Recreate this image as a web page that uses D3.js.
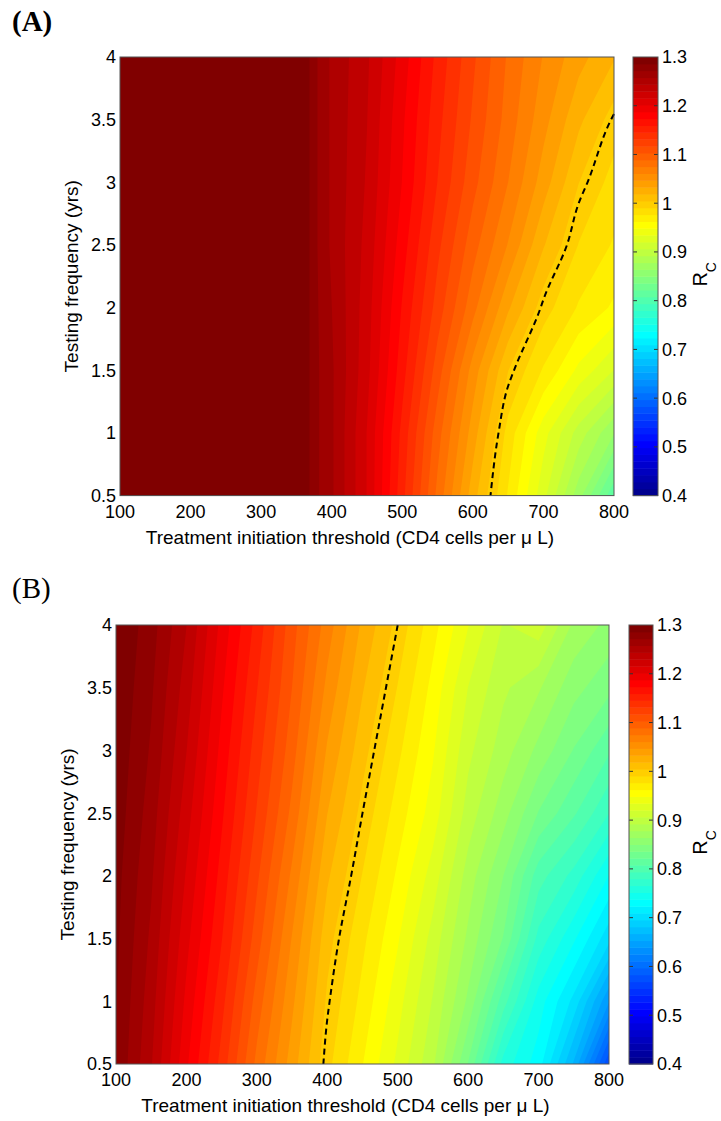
<!DOCTYPE html>
<html>
<head>
<meta charset="utf-8">
<script src="https://cdnjs.cloudflare.com/ajax/libs/d3/7.8.5/d3.min.js"></script>
<style>
  body { margin: 0; background: #fff; }
  text { fill: #000; }
</style>
</head>
<body>
<div id="chart"></div>
<script>
// grid rows: testing frequency (yrs)
const freqYears = [0.5, 1, 1.5, 2, 2.5, 3, 3.5, 4];

// panel A: threshold columns (CD4 cells per uL) and R_C, one row per frequency
const thresholdA = [100, 200, 300, 360, 370, 400, 450, 500, 550, 600, 650, 700, 750, 800];
const rcA = [
  [1.32, 1.32, 1.32, 1.32, 1.28, 1.26, 1.215, 1.15, 1.085, 1.025, 0.975, 0.925, 0.87, 0.81],
  [1.32, 1.32, 1.32, 1.32, 1.28, 1.26, 1.215, 1.155, 1.095, 1.04, 0.985, 0.94, 0.90, 0.865],
  [1.32, 1.32, 1.32, 1.32, 1.28, 1.26, 1.22, 1.165, 1.11, 1.055, 1.005, 0.975, 0.945, 0.92],
  [1.32, 1.32, 1.32, 1.32, 1.28, 1.258, 1.222, 1.172, 1.125, 1.08, 1.035, 0.997, 0.975, 0.96],
  [1.32, 1.32, 1.32, 1.32, 1.28, 1.255, 1.225, 1.18, 1.135, 1.095, 1.06, 1.02, 0.99, 0.975],
  [1.32, 1.32, 1.32, 1.32, 1.28, 1.255, 1.228, 1.187, 1.145, 1.108, 1.075, 1.04, 1.005, 0.985],
  [1.32, 1.32, 1.32, 1.32, 1.28, 1.255, 1.23, 1.19, 1.15, 1.115, 1.083, 1.052, 1.022, 0.998],
  [1.32, 1.32, 1.32, 1.32, 1.28, 1.255, 1.232, 1.195, 1.155, 1.12, 1.087, 1.06, 1.038, 1.02]
];

// panel B
const thresholdB = [100, 150, 200, 250, 300, 350, 400, 450, 500, 550, 600, 650, 700, 750, 800];
const rcB = [
  [1.285, 1.245, 1.19, 1.14, 1.085, 1.04, 0.995, 0.963, 0.931, 0.895, 0.835, 0.76, 0.73, 0.665, 0.57],
  [1.287, 1.25, 1.198, 1.15, 1.097, 1.05, 1.002, 0.972, 0.94, 0.905, 0.861, 0.80, 0.745, 0.705, 0.64],
  [1.289, 1.255, 1.206, 1.16, 1.11, 1.06, 1.01, 0.98, 0.95, 0.915, 0.875, 0.835, 0.775, 0.74, 0.70],
  [1.291, 1.26, 1.214, 1.168, 1.12, 1.072, 1.021, 0.99, 0.96, 0.928, 0.886, 0.85, 0.80, 0.775, 0.737],
  [1.294, 1.265, 1.222, 1.176, 1.13, 1.085, 1.033, 1.0, 0.97, 0.942, 0.9, 0.87, 0.835, 0.81, 0.78],
  [1.296, 1.27, 1.23, 1.183, 1.138, 1.095, 1.045, 1.01, 0.98, 0.95, 0.91, 0.885, 0.86, 0.835, 0.81],
  [1.298, 1.274, 1.237, 1.19, 1.146, 1.103, 1.057, 1.02, 0.99, 0.958, 0.92, 0.895, 0.88, 0.855, 0.84],
  [1.30, 1.278, 1.244, 1.197, 1.154, 1.109, 1.068, 1.03, 1.0, 0.968, 0.935, 0.905, 0.915, 0.875, 0.86]
];

const xTicks = [100, 200, 300, 400, 500, 600, 700, 800];
const yTicks = [0.5, 1, 1.5, 2, 2.5, 3, 3.5, 4];
const cbTicks = [0.4, 0.5, 0.6, 0.7, 0.8, 0.9, 1, 1.1, 1.2, 1.3];
const cRange = [0.4, 1.3];
const criticalLevel = 1;

const sans = "'Liberation Sans', Arial, Helvetica, sans-serif";
const serif = "'Liberation Serif', 'DejaVu Serif', serif";

const width = 721, height = 1121;
const svg = d3.select("#chart").append("svg")
  .attr("width", width)
  .attr("height", height)
  .style("font-family", sans);

// matlab style jet(m)
function jet(m) {
  const n = Math.ceil(m / 4);
  const u = d3.range(1, n + 1).map(i => i / n)
    .concat(d3.range(n - 1).map(() => 1))
    .concat(d3.range(n, 0, -1).map(i => i / n));
  const g0 = Math.ceil(n / 2) - (m % 4 === 1 ? 1 : 0);
  const J = d3.range(m).map(() => [0, 0, 0]);
  u.forEach((val, k) => {
    const g = g0 + k + 1;
    const r = g + n, b = g - n;
    if (r >= 1 && r <= m) J[r - 1][0] = val;
    if (g >= 1 && g <= m) J[g - 1][1] = val;
    if (b >= 1 && b <= m) J[b - 1][2] = val;
  });
  return J.map(c => d3.rgb(c[0] * 255, c[1] * 255, c[2] * 255).formatHex());
}

const nColors = 64;
const colors = jet(nColors);
const step = (cRange[1] - cRange[0]) / nColors;
const levels = d3.range(nColors).map(k => cRange[0] + k * step);

const panels = [
  { label: "(A)", weight: "bold", xs: thresholdA, grid: rcA,
    left: 120, right: 614, top: 57, bottom: 495.6, cbLeft: 633, cbRight: 658, labelY: 31 },
  { label: "(B)", weight: "normal", xs: thresholdB, grid: rcB,
    left: 116, right: 609, top: 625, bottom: 1064, cbLeft: 629, cbRight: 653, labelY: 598 }
];

// pull the open part of a contour ring away from the grid border
function interiorRuns(ring, nx, ny) {
  const inside = pt => pt[0] > 0 && pt[0] < nx && pt[1] > 0 && pt[1] < ny;
  const pts = ring.slice(0, -1);
  const start = pts.findIndex(pt => !inside(pt));
  if (start < 0) return [ring];
  const rot = pts.slice(start).concat(pts.slice(0, start));
  const runs = [];
  let cur = [];
  rot.forEach(pt => {
    if (inside(pt)) cur.push(pt);
    else if (cur.length) { runs.push(cur); cur = []; }
  });
  if (cur.length) runs.push(cur);
  return runs;
}

function drawPanel(p) {
  const g = svg.append("g");
  const x = d3.scaleLinear().domain([100, 800]).range([p.left, p.right]);
  const y = d3.scaleLinear().domain([0.5, 4]).range([p.bottom, p.top]);

  const nx = p.xs.length, ny = freqYears.length;
  const ix = d3.scaleLinear().domain(d3.range(nx)).range(p.xs);
  const iy = d3.scaleLinear().domain(d3.range(ny)).range(freqYears);
  const px = u => x(ix(Math.max(0, Math.min(nx - 1, u - 0.5))));
  const py = v => y(iy(Math.max(0, Math.min(ny - 1, v - 0.5))));
  const path = d3.geoPath(d3.geoTransform({
    point(a, b) { this.stream.point(px(a), py(b)); }
  }));

  const values = p.grid.flat();
  const bands = d3.contours().size([nx, ny]).thresholds(levels)(values);

  g.selectAll("path.band")
    .data(bands)
    .join("path")
    .attr("class", "band")
    .attr("d", path)
    .attr("fill", (d, i) => colors[Math.min(i, nColors - 1)]);

  // R_C = 1 dashed line
  const crit = d3.contours().size([nx, ny]).thresholds([criticalLevel])(values)[0];
  const runs = [];
  crit.coordinates.forEach(poly => poly.forEach(ring => {
    interiorRuns(ring, nx, ny).forEach(r => runs.push(r));
  }));
  const line = d3.line().x(d => px(d[0])).y(d => py(d[1])).curve(d3.curveMonotoneY);
  g.selectAll("path.crit")
    .data(runs)
    .join("path")
    .attr("class", "crit")
    .attr("d", line)
    .attr("fill", "none")
    .attr("stroke", "#000")
    .attr("stroke-width", 2)
    .attr("stroke-dasharray", "6,4");

  // axes box
  g.append("rect")
    .attr("x", p.left).attr("y", p.top)
    .attr("width", p.right - p.left).attr("height", p.bottom - p.top)
    .attr("fill", "none").attr("stroke", "#555").attr("stroke-width", 1);

  g.selectAll("text.xt")
    .data(xTicks)
    .join("text")
    .attr("class", "xt")
    .attr("x", d => x(d))
    .attr("y", p.bottom + 22)
    .attr("text-anchor", "middle")
    .attr("font-size", 18)
    .text(d => d);

  g.selectAll("text.yt")
    .data(yTicks)
    .join("text")
    .attr("class", "yt")
    .attr("x", p.left - 4)
    .attr("y", d => y(d))
    .attr("dy", "0.36em")
    .attr("text-anchor", "end")
    .attr("font-size", 18)
    .text(d => d);

  g.append("text")
    .attr("x", (p.left + p.right) / 2 - 17)
    .attr("y", p.bottom + 48)
    .attr("text-anchor", "middle")
    .attr("font-size", 19)
    .text("Treatment initiation threshold (CD4 cells per \u03bc L)");

  g.append("text")
    .attr("transform", `translate(${p.left - 42},${(p.top + p.bottom) / 2}) rotate(-90)`)
    .attr("text-anchor", "middle")
    .attr("font-size", 19)
    .text("Testing frequency (yrs)");

  // colorbar
  const c = d3.scaleLinear().domain(cRange).range([p.bottom, p.top]);
  g.selectAll("rect.cb")
    .data(levels)
    .join("rect")
    .attr("class", "cb")
    .attr("x", p.cbLeft)
    .attr("y", d => c(d + step))
    .attr("width", p.cbRight - p.cbLeft)
    .attr("height", d => c(d) - c(d + step) + 0.5)
    .attr("fill", (d, i) => colors[i]);

  g.selectAll("line.cbtl")
    .data(cbTicks.slice(1, -1))
    .join("line")
    .attr("class", "cbtl")
    .attr("x1", p.cbLeft).attr("x2", p.cbLeft + 4)
    .attr("y1", d => c(d)).attr("y2", d => c(d))
    .attr("stroke", "#333");
  g.selectAll("line.cbtr")
    .data(cbTicks.slice(1, -1))
    .join("line")
    .attr("class", "cbtr")
    .attr("x1", p.cbRight - 4).attr("x2", p.cbRight)
    .attr("y1", d => c(d)).attr("y2", d => c(d))
    .attr("stroke", "#333");

  g.append("rect")
    .attr("x", p.cbLeft).attr("y", p.top)
    .attr("width", p.cbRight - p.cbLeft).attr("height", p.bottom - p.top)
    .attr("fill", "none").attr("stroke", "#555").attr("stroke-width", 1);

  g.selectAll("text.cbt")
    .data(cbTicks)
    .join("text")
    .attr("class", "cbt")
    .attr("x", p.cbRight + 4)
    .attr("y", d => c(d))
    .attr("dy", "0.36em")
    .attr("font-size", 18)
    .text(d => d);

  const rc = g.append("text")
    .attr("transform", `translate(707,${(p.top + p.bottom) / 2 - 2}) rotate(-90)`)
    .attr("text-anchor", "middle")
    .attr("font-size", 20);
  rc.append("tspan").text("R");
  rc.append("tspan").attr("dy", 9).attr("font-size", 14).text("C");

  svg.append("text")
    .attr("x", 12)
    .attr("y", p.labelY)
    .style("font-family", serif)
    .style("font-weight", p.weight)
    .attr("font-size", 29)
    .text(p.label);
}

panels.forEach(drawPanel);
</script>
</body>
</html>
